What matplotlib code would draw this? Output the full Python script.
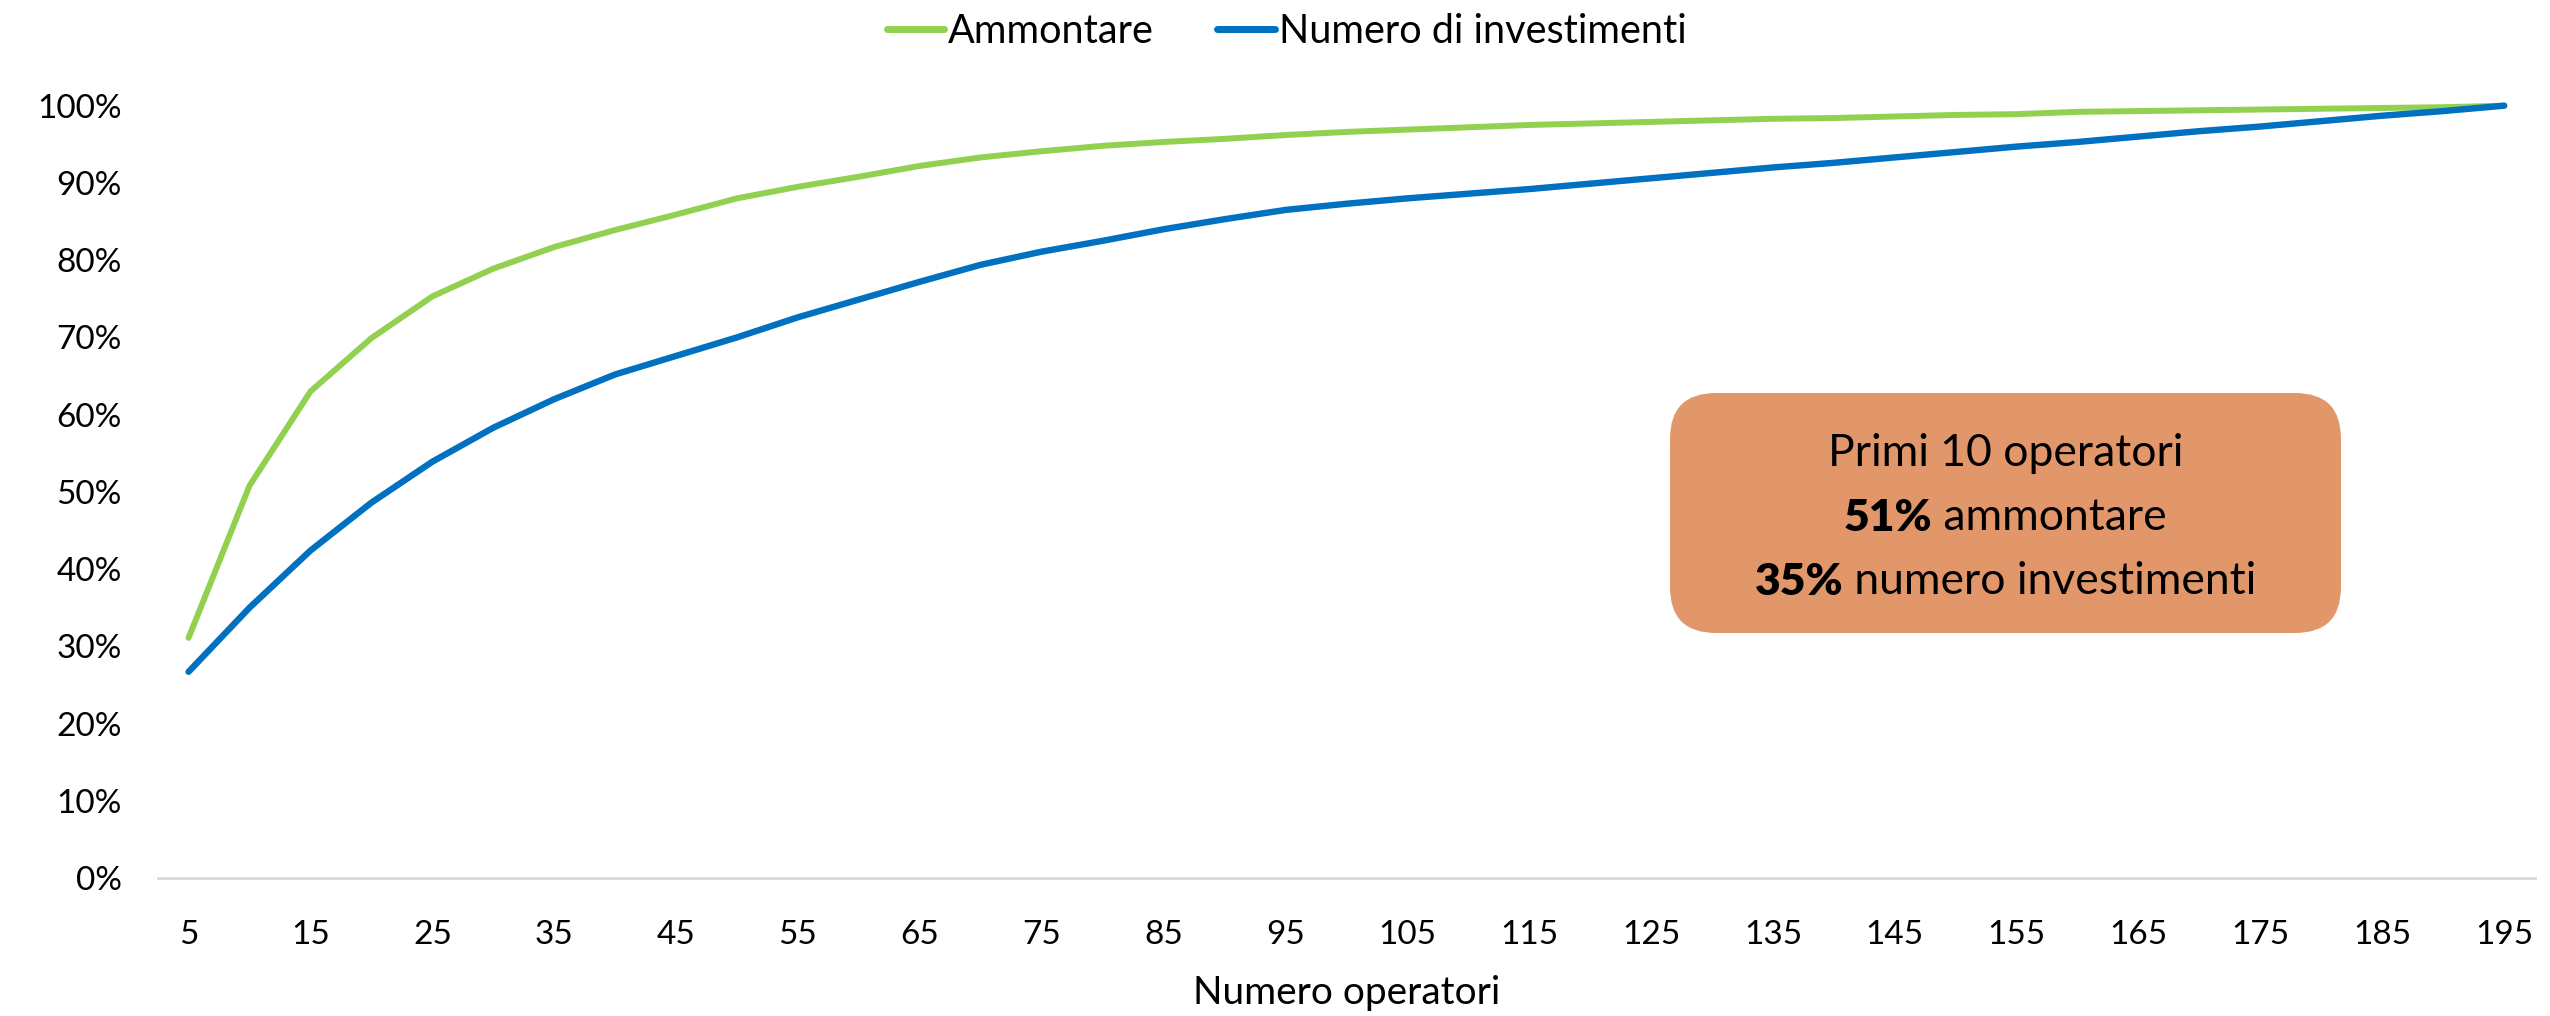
import matplotlib
matplotlib.use("Agg")
import matplotlib.pyplot as plt
from matplotlib.patches import FancyBboxPatch

# ---- data ----
operatori = list(range(5, 200, 5))
ammontare = [31.1, 50.8, 63.0, 69.9, 75.3, 78.9, 81.7, 83.9, 85.9, 88.0,
             89.5, 90.8, 92.2, 93.3, 94.1, 94.8, 95.3, 95.7, 96.2, 96.6,
             96.9, 97.2, 97.5, 97.7, 97.9, 98.1, 98.3, 98.4, 98.6, 98.8,
             98.9, 99.2, 99.3, 99.4, 99.5, 99.6, 99.7, 99.8, 100.0]
numero = [26.7, 35.0, 42.4, 48.6, 53.9, 58.3, 62.0, 65.2, 67.6, 70.0,
          72.6, 74.9, 77.2, 79.4, 81.1, 82.5, 84.0, 85.3, 86.5, 87.3,
          88.0, 88.6, 89.2, 89.9, 90.6, 91.3, 92.0, 92.6, 93.3, 94.0,
          94.7, 95.3, 96.0, 96.7, 97.3, 98.0, 98.7, 99.3, 100.0]
xticks = list(range(5, 200, 10))
yticks = list(range(0, 101, 10))
series_names = ["Ammontare", "Numero di investimenti"]
colors = ["#92D050", "#0070C0"]
box_title = "Primi 10 operatori"
box_lines = [("51%", " ammontare"), ("35%", " numero investimenti")]

plt.rcParams['font.family'] = ['Lato', 'DejaVu Sans']

fig = plt.figure(figsize=(25.5, 10.16), dpi=100)
ax = fig.add_axes([0.062, 0.1358, 0.932, 0.7602])

ax.plot(operatori, [v / 100 for v in ammontare], color=colors[0], lw=4.3,
        solid_capstyle='round', solid_joinstyle='round', label=series_names[0])
ax.plot(operatori, [v / 100 for v in numero], color=colors[1], lw=4.6,
        solid_capstyle='round', solid_joinstyle='round', label=series_names[1])

ax.set_xlim(2.5, 197.5)
ax.set_ylim(0, 1.0)
ax.set_xticks(xticks)
ax.set_xticklabels([str(t) for t in xticks])
ax.set_yticks([t / 100 for t in yticks])
ax.set_yticklabels([f"{t}%" for t in yticks])
ax.tick_params(axis='both', length=0, labelsize=24, colors='black')
ax.tick_params(axis='y', pad=26)
ax.tick_params(axis='x', pad=30)
for s in ['top', 'right', 'left']:
    ax.spines[s].set_visible(False)
ax.spines['bottom'].set_color('#D9D9D9')
ax.spines['bottom'].set_linewidth(2)
for ln in ax.lines:
    ln.set_clip_on(False)

ax.set_xlabel("Numero operatori", fontsize=28, labelpad=18)

leg = fig.legend(loc='center', bbox_to_anchor=(0.5045, 0.969), ncol=2, frameon=False,
                 fontsize=28.5, handlelength=1.45, handletextpad=0.1,
                 columnspacing=1.6)
for h in leg.get_lines():
    h.set_linewidth(5)

# annotation box (figure pixel coords -> fraction)
W, H = 2550, 1016
bx0, bx1, by0, by1 = 1670, 2341, 393, 633
box = FancyBboxPatch((bx0 / W, 1 - by1 / H), (bx1 - bx0) / W, (by1 - by0) / H,
                     boxstyle="round,pad=0,rounding_size=0.018",
                     transform=fig.transFigure, facecolor="#E2976A",
                     edgecolor='none', mutation_aspect=W / H)
fig.add_artist(box)
cx = (bx0 + bx1) / 2 / W
fs = 32
fig.text(cx, 1 - 454 / H, box_title, ha='center', va='center', fontsize=fs)

fig.canvas.draw()
r = fig.canvas.get_renderer()
for (bold, rest), yy in zip(box_lines, [518, 582]):
    tb = fig.text(0, 1 - yy / H, bold, ha='left', va='center', fontsize=fs, fontweight='heavy')
    tr = fig.text(0, 1 - yy / H, rest, ha='left', va='center', fontsize=fs)
    wb = tb.get_window_extent(r).width
    wr = tr.get_window_extent(r).width
    start = cx * W - (wb + wr) / 2
    tb.set_x(start / W)
    tr.set_x((start + wb) / W)

fig.savefig("out.png", dpi=100)
